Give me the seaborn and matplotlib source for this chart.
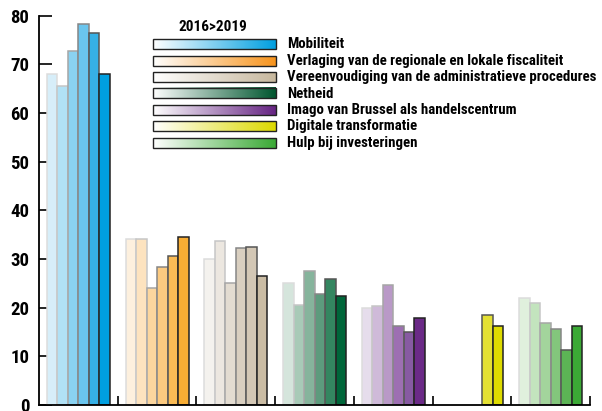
import matplotlib
matplotlib.use("Agg")
import matplotlib.pyplot as plt
import matplotlib.colors as mcolors
from matplotlib import font_manager
import seaborn as sns
import pandas as pd
import numpy as np

# categories (legend order) and six measurements per category, 2016 > 2019
categories = [
    "Mobiliteit",
    "Verlaging van de regionale en lokale fiscaliteit",
    "Vereenvoudiging van de administratieve procedures",
    "Netheid",
    "Imago van Brussel als handelscentrum",
    "Digitale transformatie",
    "Hulp bij investeringen",
]
periods = ["p1", "p2", "p3", "p4", "p5", "p6"]

mobiliteit = [68.0, 65.5, 72.8, 78.2, 76.4, 68.0]
fiscaliteit = [34.1, 34.2, 24.1, 28.4, 30.6, 34.6]
administratie = [30.0, 33.7, 25.1, 32.2, 32.4, 26.6]
netheid = [25.0, 20.6, 27.5, 22.9, 25.9, 22.4]
imago = [20.0, 20.3, 24.6, 16.3, 15.1, 17.9]
digitaal = [np.nan, np.nan, np.nan, np.nan, 18.4, 16.2]
investeringen = [22.0, 20.9, 16.9, 15.7, 11.4, 16.2]

series = [mobiliteit, fiscaliteit, administratie, netheid, imago, digitaal, investeringen]

# light -> dark colour ramp per category
ramps = [
    ["#d7eef9", "#b1e1f5", "#8ad2f1", "#6ac5ee", "#36b0e6", "#009fe0"],
    ["#fdf0de", "#fde3bf", "#fcd69e", "#fcca80", "#fabb55", "#f8ad34"],
    ["#f4f2ee", "#ece7e0", "#e3dcd1", "#d9cfc0", "#d3c7b5", "#cabca4"],
    ["#d5e5dc", "#a8cab7", "#86b49c", "#5d9b7d", "#348660", "#00663a"],
    ["#e6ddec", "#cfbad9", "#b999c7", "#9d6fb2", "#875aa2", "#6b2a87"],
    ["#f3f1b0", "#eeeb8a", "#ebe770", "#e8e450", "#e4e033", "#dedb00"],
    ["#e0f0dd", "#c3e4be", "#a3d49c", "#83c67c", "#5cb455", "#3ba935"],
]
edges = ["#dcdcdc", "#c6c6c6", "#a6a6a6", "#868686", "#555555", "#222222"]
legend_ends = ["#009fe0", "#f7941d", "#c7b89e", "#00562f", "#662483", "#dcd900", "#3aa935"]

rows = []
for cat, vals in zip(categories, series):
    for per, v in zip(periods, vals):
        rows.append({"categorie": cat, "periode": per, "waarde": v})
df = pd.DataFrame(rows).dropna()

# pick a bold condensed family if one is installed
available = {f.name for f in font_manager.fontManager.ttflist if f.weight in (700, "bold")}
candidates = ["Roboto Condensed", "Fira Sans Condensed", "PT Sans Narrow", "Archivo Narrow",
              "Liberation Sans Narrow", "Open Sans Condensed", "Asap Condensed",
              "Encode Sans Condensed", "IBM Plex Sans Condensed", "Barlow Semi Condensed"]
narrow = [c for c in candidates if c in available][:1] + ["DejaVu Sans"]

fig = plt.figure(figsize=(6.02, 4.11), dpi=100)
ax = fig.add_axes([0.0648, 0.0146, 0.9153, 0.9472])

sns.barplot(
    data=df, x="categorie", y="waarde", hue="periode",
    order=categories, hue_order=periods,
    width=0.8, dodge=True, legend=False, ax=ax, zorder=2,
)

# recolour each bar by its category and period
hw = 0.8 / len(periods)
for p in ax.patches:
    c = p.get_x() + p.get_width() / 2
    g = int(round(c))
    h = int(round((c - g + 0.4) / hw - 0.5))
    p.set_facecolor(ramps[g][h])
    p.set_edgecolor(edges[h])
    p.set_linewidth(1.1)

ax.set_xlim(-0.5, 6.5)
ax.set_ylim(0, 80)
ax.set_xlabel("")
ax.set_ylabel("")
sns.despine(ax=ax)
ax.spines["left"].set_linewidth(1.3)
ax.spines["bottom"].set_linewidth(1.3)

ax.set_yticks(range(0, 81, 10))
ax.set_xticks(np.arange(0.5, 7, 1))
ax.set_xticklabels([])
ax.tick_params(axis="y", direction="in", length=9.5, width=1.2, pad=7,
               labelsize=13.5)
ax.tick_params(axis="x", direction="in", length=6.5, width=1.2)
for lab in ax.get_yticklabels():
    lab.set_fontweight("bold")
    lab.set_family(narrow)

# gradient legend in pixel coordinates
lax = fig.add_axes([0, 0, 1, 1], zorder=5)
lax.set_xlim(0, 602)
lax.set_ylim(411, 0)
lax.axis("off")
title = lax.text(213, 27, "2016>2019", ha="center", va="center", fontsize=10,
                 fontweight="bold", family=narrow)
grad = np.linspace(0, 1, 256).reshape(1, -1)
labels = []
for i, cat in enumerate(categories):
    yc = 44.3 + i * 16.4
    cmap = mcolors.LinearSegmentedColormap.from_list(
        f"g{i}", ["#ffffff", legend_ends[i]])
    lax.imshow(grad, cmap=cmap, aspect="auto",
               extent=(153, 276, yc + 5, yc - 5), zorder=1)
    lax.add_patch(plt.Rectangle((153, yc - 5), 123, 10, fill=False,
                                edgecolor="#222222", lw=1.0, zorder=2))
    labels.append(lax.text(287, yc, cat, ha="left", va="center", fontsize=10.5,
                           fontweight="bold", family=narrow))
lax.set_xlim(0, 602)
lax.set_ylim(411, 0)

# size the legend text so the longest line spans about as wide as in the source
renderer = fig.canvas.get_renderer()
w = labels[2].get_window_extent(renderer).width
size = min(11.0, 10.5 * 313.0 / w)
for t in labels:
    t.set_fontsize(size)
tw = title.get_window_extent(renderer).width
title.set_fontsize(min(11.0, 10 * 71.0 / tw))

fig.savefig("out.png", dpi=100)
